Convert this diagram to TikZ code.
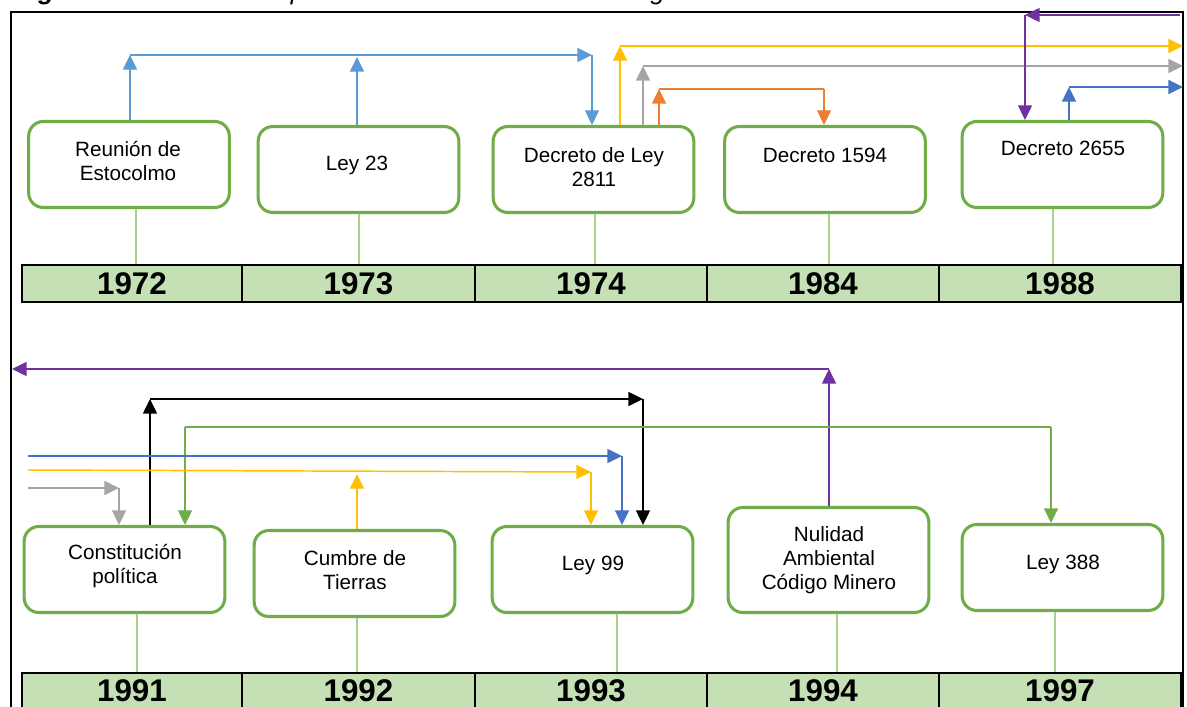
\documentclass[tikz,border=0pt]{standalone}
\usepackage{fontspec}
\setmainfont{Liberation Sans}
\usetikzlibrary{arrows.meta}

\definecolor{boxgreen}{HTML}{70AD47}
\definecolor{stemgreen}{HTML}{A9D18E}
\definecolor{barfill}{HTML}{C5E0B4}
\definecolor{lblue}{HTML}{5B9BD5}
\definecolor{dblue}{HTML}{4472C4}
\definecolor{gold}{HTML}{FFC000}
\definecolor{greyc}{HTML}{A5A5A5}
\definecolor{orng}{HTML}{ED7D31}
\definecolor{purp}{HTML}{7030A0}

\tikzset{
  evbox/.style={draw=boxgreen, line width=2.3pt, rounded corners=11pt,
    fill=white, minimum width=150.5pt, minimum height=64.5pt, inner sep=0pt},
  tallbox/.style={evbox, minimum height=78.75pt},
  evtext/.style={align=center, inner sep=0pt,
    font=\fontsize{15.5}{18}\selectfont},
  yearcell/.style={draw=black, line width=1.5pt, fill=barfill, inner sep=0pt,
    minimum height=27.75pt, font=\fontsize{23.5}{24}\bfseries\selectfont},
  stem/.style={draw=stemgreen, line width=1.5pt},
  link/.style={line width=1.1pt},
  arr/.style={link, -{Triangle[length=11pt,width=10.5pt]}}
}

\begin{document}
\begin{tikzpicture}[x=0.75pt,y=-0.75pt]
\useasboundingbox (0,0) rectangle (1187,706);
\fill[white] (0,0) rectangle (1187,706);

% caption running off the top edge
\node[anchor=base west, inner sep=0pt, font=\fontsize{19.5}{22}\itshape\selectfont]
  (caption) at (15,-0.5) {\textbf{Figura 1.} Línea de tiempo de los antecedentes de la legislación ambiental en Colombia};

% outer frame
\draw[line width=1.5pt] (11,730) -- (11,12) -- (1183,12) -- (1183,730);

% ---------------- first row: year bar ----------------
\node[yearcell, minimum width=165pt]    (y1972) at (132,283.5)   {1972};
\node[yearcell, minimum width=174.75pt] (y1973) at (358.5,283.5) {1973};
\node[yearcell, minimum width=174pt]    (y1974) at (591,283.5)   {1974};
\node[yearcell, minimum width=174pt]    (y1984) at (823,283.5)   {1984};
\node[yearcell, minimum width=181.5pt]  (y1988) at (1060,283.5)  {1988};

% first row: events
\node[evbox] (reunion) at (129,164.5) {};
\node[evbox] (ley23)   at (358.5,169.5) {};
\node[evbox] (d2811)   at (593.5,169.5) {};
\node[evbox] (d1594)   at (825,169.5) {};
\node[evbox] (d2655)   at (1062.5,164.5) {};

\node[evtext] (treunion) at (128,161) {Reunión de\\Estocolmo};
\node[evtext] (tley23)   at (357,165) {Ley 23};
\node[evtext] (td2811)   at (594,167) {Decreto de Ley\\2811};
\node[evtext] (td1594)   at (825,155) {Decreto 1594};
\node[evtext] (td2655)   at (1063,148) {Decreto 2655};

% stems to the year bar
\coordinate (s1) at (136,0);
\coordinate (s2) at (359,0);
\coordinate (s3) at (595,0);
\coordinate (s4) at (829,0);
\coordinate (s5) at (1053,0);
\draw[stem] (reunion.south -| s1) -- (y1972.north -| s1);
\draw[stem] (ley23.south -| s2)   -- (y1973.north -| s2);
\draw[stem] (d2811.south -| s3)   -- (y1974.north -| s3);
\draw[stem] (d1594.south -| s4)   -- (y1984.north -| s4);
\draw[stem] (d2655.south -| s5)   -- (y1988.north -| s5);

% first row: connectors
\coordinate (bA) at (130,55);
\coordinate (bB) at (592,55);
\coordinate (bC) at (357,57);
\draw[arr, lblue] (reunion.north -| bA) -- (bA);
\draw[arr, lblue] (bA) -- (bB);
\draw[arr, lblue] (bB) -- (d2811.north -| bB);
\draw[arr, lblue] (ley23.north -| bC) -- (bC);

\coordinate (yA) at (620,46);
\coordinate (yB) at (1183,46);
\draw[arr, gold] (d2811.north -| yA) -- (yA);
\draw[arr, gold] (yA) -- (yB);

\coordinate (gA) at (643,66);
\coordinate (gB) at (1183,66);
\draw[arr, greyc] (d2811.north -| gA) -- (gA);
\draw[arr, greyc] (gA) -- (gB);

\coordinate (oA) at (659,89);
\coordinate (oB) at (824,89);
\draw[arr, orng] (d2811.north -| oA) -- (oA);
\draw[link, orng] (oA) -- (oB);
\draw[arr, orng] (oB) -- (d1594.north -| oB);

\coordinate (pA) at (1180,15);
\coordinate (pB) at (1025,15);
\draw[arr, purp] (pA) -- (pB);
\draw[arr, purp] (pB) -- (d2655.north -| pB);

\coordinate (dA) at (1069,87);
\coordinate (dB) at (1183,87);
\draw[arr, dblue] (d2655.north -| dA) -- (dA);
\draw[arr, dblue] (dA) -- (dB);

% ---------------- second row: year bar ----------------
\node[yearcell, minimum width=165pt]    (y1991) at (132,691)   {1991};
\node[yearcell, minimum width=174.75pt] (y1992) at (358.5,691) {1992};
\node[yearcell, minimum width=174pt]    (y1993) at (591,691)   {1993};
\node[yearcell, minimum width=174pt]    (y1994) at (823,691)   {1994};
\node[yearcell, minimum width=181.5pt]  (y1997) at (1060,691)  {1997};

% second row: events
\node[evbox]   (const)   at (124.5,569.5) {};
\node[evbox]   (cumbre)  at (354.5,573.5) {};
\node[evbox]   (ley99)   at (592.5,569.5) {};
\node[tallbox] (nulidad) at (828.5,560) {};
\node[evbox]   (ley388)  at (1062.5,567.5) {};

\node[evtext] (tconst)   at (125,566) {Constitución\\política};
\node[evtext] (tcumbre)  at (355,570) {Cumbre de\\Tierras};
\node[evtext] (tley99)   at (593,565) {Ley 99};
\node[evtext] (tnulidad) at (829,560) {Nulidad\\Ambiental\\Código Minero};
\node[evtext] (tley388)  at (1063,564) {Ley 388};

% stems to the year bar
\coordinate (r1) at (137,0);
\coordinate (r2) at (357,0);
\coordinate (r3) at (617,0);
\coordinate (r4) at (837,0);
\coordinate (r5) at (1055,0);
\draw[stem] (const.south -| r1)   -- (y1991.north -| r1);
\draw[stem] (cumbre.south -| r2)  -- (y1992.north -| r2);
\draw[stem] (ley99.south -| r3)   -- (y1993.north -| r3);
\draw[stem] (nulidad.south -| r4) -- (y1994.north -| r4);
\draw[stem] (ley388.south -| r5)  -- (y1997.north -| r5);

% second row: connectors
\coordinate (qA) at (829,369);
\coordinate (qB) at (12,369);
\draw[arr, purp] (nulidad.north -| qA) -- (qA);
\draw[arr, purp] (qA) -- (qB);

\coordinate (kA) at (150,399);
\coordinate (kB) at (643,399);
\draw[arr, black] (const.north -| kA) -- (kA);
\draw[arr, black] (kA) -- (kB);
\draw[arr, black] (kB) -- (ley99.north -| kB);

\coordinate (grA) at (185,427);
\coordinate (grB) at (1051,427);
\draw[link, boxgreen] (grA) -- (grB);
\draw[arr, boxgreen] (grA) -- (const.north -| grA);
\draw[arr, boxgreen] (grB) -- (ley388.north -| grB);

\coordinate (bs) at (28,456);
\coordinate (bc) at (622,456);
\draw[arr, dblue] (bs) -- (bc);
\draw[arr, dblue] (bc) -- (ley99.north -| bc);

\coordinate (ys) at (28,470);
\coordinate (yc) at (591,472);
\draw[arr, gold] (ys) -- (yc);
\draw[arr, gold] (yc) -- (ley99.north -| yc);

\coordinate (gs) at (28,488);
\coordinate (gc) at (119,488);
\draw[arr, greyc] (gs) -- (gc);
\draw[arr, greyc] (gc) -- (const.north -| gc);

\coordinate (cA) at (357,474);
\draw[arr, gold] (cumbre.north -| cA) -- (cA);
\end{tikzpicture}
\end{document}
